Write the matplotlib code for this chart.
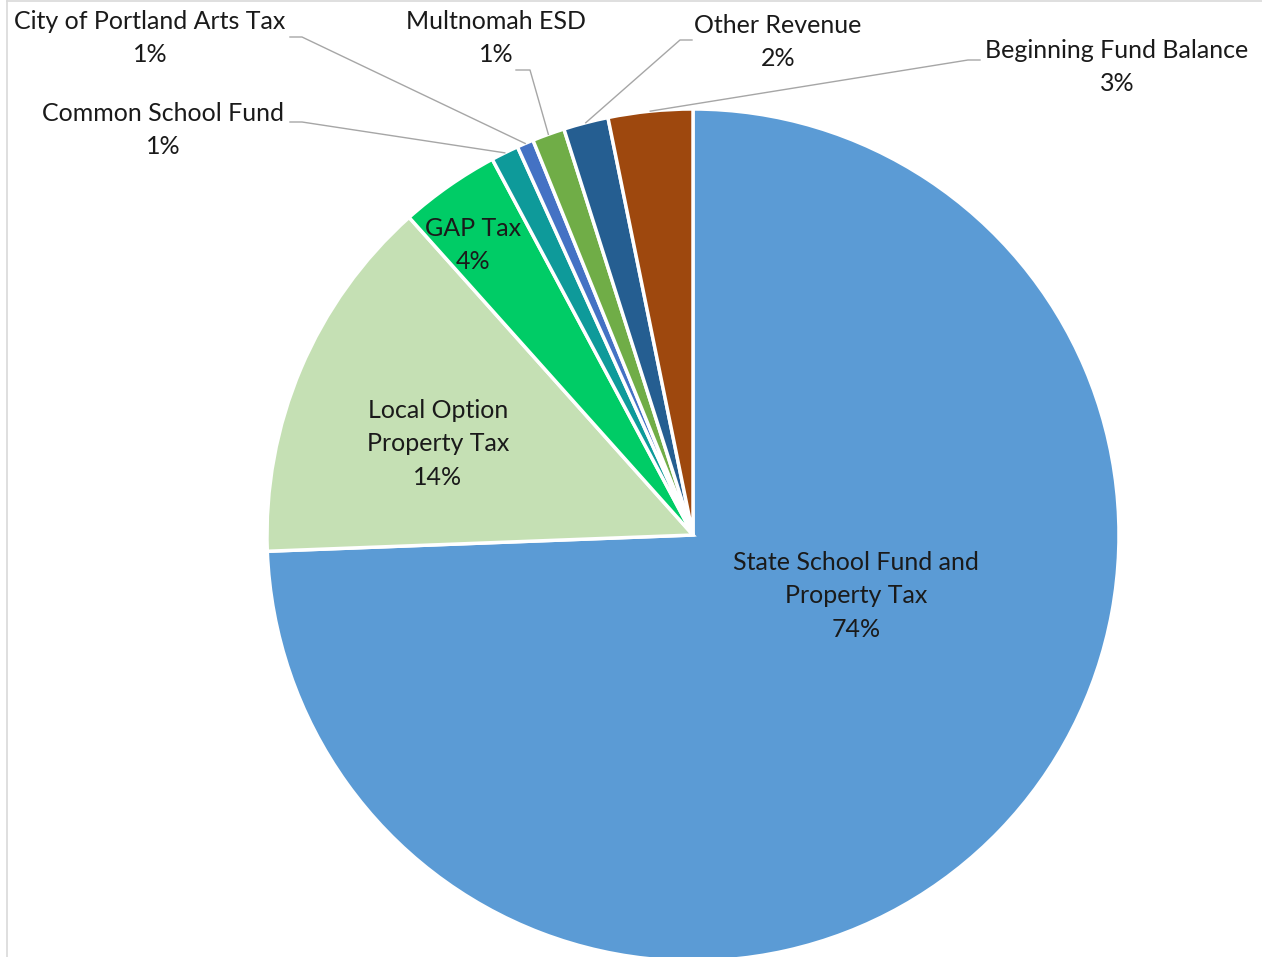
import matplotlib
matplotlib.use("Agg")
import matplotlib.pyplot as plt
import numpy as np

categories = ["State School Fund and\nProperty Tax", "Local Option\nProperty Tax", "GAP Tax",
              "Common School Fund", "City of Portland Arts Tax", "Multnomah ESD",
              "Other Revenue", "Beginning Fund Balance"]
values = [74.4, 14.0, 3.8, 1.05, 0.63, 1.23, 1.70, 3.2]
colors = ["#5B9BD5", "#C5E0B4", "#00CC66", "#0E9A9A", "#4472C4", "#70AD47", "#255E91", "#9E480E"]

W, H = 1262, 957
CX, CY, R = 693, 535, 426


def px(x, y):
    # pixel position -> data coords (pie radius = 1)
    return (x - CX) / R, (CY - y) / R


plt.rcParams["font.family"] = ["Lato", "DejaVu Sans"]
fig = plt.figure(figsize=(W / 100, H / 100), dpi=100)
ax = fig.add_axes([0, 0, 1, 1])

wedges, _ = ax.pie(values, colors=colors, startangle=90, counterclock=False, radius=1,
                   wedgeprops=dict(edgecolor="white", linewidth=2.5))
ax.set_xlim(-CX / R, (W - CX) / R)
ax.set_ylim(-(H - CY) / R, CY / R)
ax.axis("off")

total = sum(values)
pcts = [f"{v / total * 100:.0f}%" for v in values]
fs = 18
ls = 1.55
tc = "#1a1a1a"

# labels inside the pie
inside = {0: (856, 596), 1: (438, 444), 2: (473, 245)}
for i, (x, y) in inside.items():
    ax.text(*px(x, y), categories[i] + "\n" + pcts[i], ha="center", va="center",
            fontsize=fs, color=tc, linespacing=ls)

# outside labels with leader lines: label centre, leader start
outside = {
    3: ((163, 130), (290, 122), (302, 122)),
    4: ((150, 38), (290, 37), (302, 37)),
    5: ((496, 38), (516, 70), (530, 70)),
    6: ((778, 42), (692, 40), (680, 40)),
    7: ((1117, 67), (980, 60), (968, 60)),
}
for i, (lab, p0, p1) in outside.items():
    ax.text(*px(*lab), categories[i] + "\n" + pcts[i], ha="center", va="center",
            fontsize=fs, color=tc, linespacing=ls)
    w = wedges[i]
    mid = np.deg2rad((w.theta1 + w.theta2) / 2)
    ex, ey = np.cos(mid), np.sin(mid)
    x0, y0 = px(*p0)
    x1, y1 = px(*p1)
    ax.plot([x0, x1, ex], [y0, y1, ey], color="#A6A6A6", linewidth=1)

# chart frame
fig.add_artist(plt.Line2D([7 / W, 7 / W], [0, 1 - 1 / H], color="#D9D9D9", linewidth=1.2))
fig.add_artist(plt.Line2D([7 / W, 1], [1 - 1 / H, 1 - 1 / H], color="#D9D9D9", linewidth=1.2))

fig.savefig("out.png", dpi=100)
